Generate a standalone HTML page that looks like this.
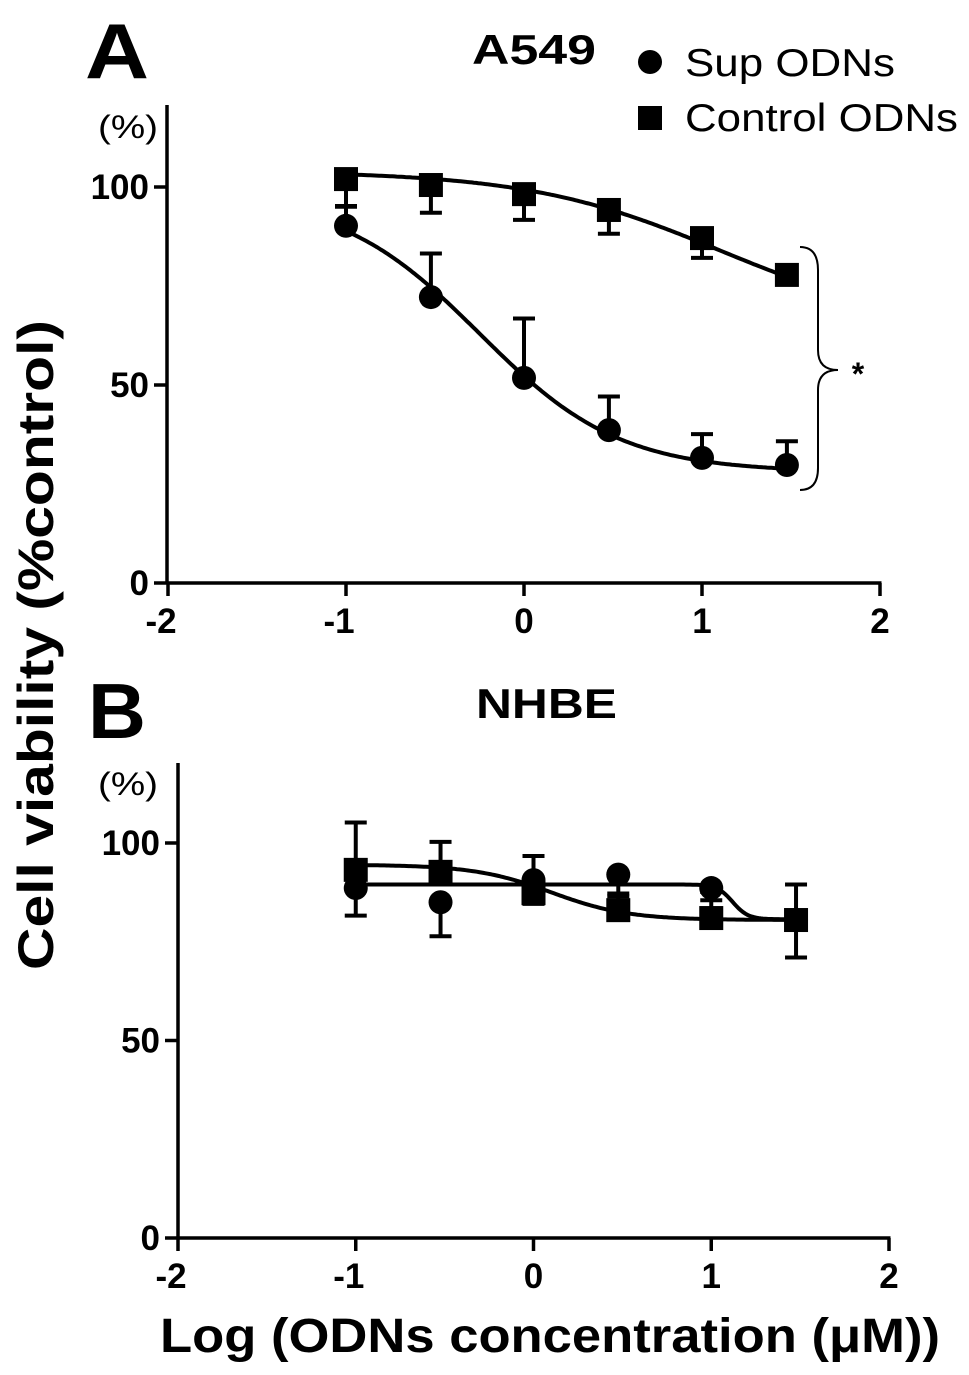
<!DOCTYPE html>
<html><head><meta charset="utf-8"><style>
body{margin:0;background:#fff}
svg{display:block;font-family:"Liberation Sans",Arial,sans-serif}
</style></head><body>
<svg id="c" width="969" height="1375" viewBox="0 0 969 1375">
<text x="85" y="78" font-size="78" font-weight="bold" textLength="64" lengthAdjust="spacingAndGlyphs">A</text>
<text x="88" y="738" font-size="78" font-weight="bold" textLength="58" lengthAdjust="spacingAndGlyphs">B</text>
<text x="472" y="64" font-size="42" font-weight="bold" textLength="124" lengthAdjust="spacingAndGlyphs">A549</text>
<text x="476" y="718" font-size="42" font-weight="bold" textLength="141" lengthAdjust="spacingAndGlyphs">NHBE</text>
<circle cx="650" cy="62" r="12"/>
<text x="685" y="76" font-size="39" textLength="210" lengthAdjust="spacingAndGlyphs">Sup ODNs</text>
<rect x="638" y="106" width="24" height="24"/>
<text x="685" y="131" font-size="39" textLength="273" lengthAdjust="spacingAndGlyphs">Control ODNs</text>
<text transform="translate(53,970) rotate(-90)" font-size="50" font-weight="bold" textLength="650" lengthAdjust="spacingAndGlyphs">Cell viability (%control)</text>
<text x="160" y="1352" font-size="48" font-weight="bold" textLength="780" lengthAdjust="spacingAndGlyphs">Log (ODNs concentration (μM))</text>
<text x="98" y="138" font-size="32" textLength="60" lengthAdjust="spacingAndGlyphs">(%)</text>
<text x="98" y="795" font-size="32" textLength="60" lengthAdjust="spacingAndGlyphs">(%)</text>
<path d="M800,247 Q818,247 818,270 L818,350 Q818,370 838,370 Q818,370 818,390 L818,468 Q818,490 800,490" fill="none" stroke="#000" stroke-width="2"/>
<text x="858" y="385" font-size="32" font-weight="bold" text-anchor="middle">*</text>
<g id="pa"></g>
<g id="pb"></g>
</svg>
<script>
const xTicks=[-2,-1,0,1,2];
const yTicks=[0,50,100];
const xVals=[-1,-0.523,0,0.477,1,1.477];
const aSup=[90.2,72.2,51.8,38.6,31.6,29.8];
const aSupErr=[5,11,15,8.5,6,6];
const aCtrl=[102,100.5,98.2,94.2,87.1,77.8];
const aCtrlErr=[7,7,6.5,6,5,0];
const bSup=[88.6,85,90.6,92,88.6,80.5];
const bSupErr=[7,8.6,6,4.8,1,9.5];
const bCtrl=[93.2,92.7,87.3,83,81,80.5];
const bCtrlErr=[12,7.6,9.4,3.5,4.5,9];
const fitASup=[98,28,-0.25,1.1];
const fitACtrl=[104,64,1.1,0.8];
const fitBSup=[89.5,80.7,1.12,10];
const fitBCtrl=[94.5,80.5,0.1,2];
const NS='http://www.w3.org/2000/svg';
function mk(p,t,a){const e=document.createElementNS(NS,t);for(const k in a)e.setAttribute(k,a[k]);p.appendChild(e);return e;}
function panel(g,ax,sup,supE,ctr,ctrE,fs,fc,errDown){
 const X=v=>ax.x0+(v+2)*ax.dx, Y=v=>ax.y0-v*ax.dy;
 let e=mk(g,'line',{x1:ax.ax,y1:ax.top,x2:ax.ax,y2:Y(0)+1.5,stroke:'#000','stroke-width':3.5});
 
 
 e=mk(g,'line',{x1:ax.ax,y1:Y(0),x2:X(2)+1.5,y2:Y(0),stroke:'#000','stroke-width':3.5});
 
 
 xTicks.forEach(t=>{mk(g,'line',{x1:X(t),y1:Y(0),x2:X(t),y2:Y(0)+13,stroke:'#000','stroke-width':3.5});
  e=mk(g,'text',{x:X(t)-(t<0?7:0),y:Y(0)+50,'font-size':35,'font-weight':'bold','text-anchor':'middle'});e.textContent=(t<0?'-'+(-t):t);
  
  });
 yTicks.forEach(t=>{mk(g,'line',{x1:ax.ax-13,y1:Y(t),x2:ax.ax,y2:Y(t),stroke:'#000','stroke-width':3.5});
  e=mk(g,'text',{x:ax.ax-18,y:Y(t)+12,'font-size':35,'font-weight':'bold','text-anchor':'end'});e.textContent=t;
  
  });
 function curve(f,name){let d='';for(let i=0;i<=200;i++){const x=-1+i*2.477/200;const y=f[1]+(f[0]-f[1])/(1+Math.pow(10,(x-f[2])*f[3]));d+=(i?'L':'M')+X(x).toFixed(1)+','+Y(y).toFixed(1);}
  const p=mk(g,'path',{d:d,fill:'none',stroke:'#000','stroke-width':4});
  
  }
 curve(fs,'sup-fit-curve');curve(fc,'control-fit-curve');
 function err(vals,errs,dir,name){vals.forEach((v,i)=>{if(!errs[i])return;const y2=Y(v+dir*errs[i]);
  const l=mk(g,'path',{d:`M${X(xVals[i])},${Y(v)}V${y2}M${X(xVals[i])-11},${y2}H${X(xVals[i])+11}`,stroke:'#000','stroke-width':4,fill:'none'});
  
  });}
 err(sup,supE,errDown[0],'sup-error-bar');err(ctr,ctrE,errDown[1],'control-error-bar');
 sup.forEach((v,i)=>{const c=mk(g,'circle',{cx:X(xVals[i]),cy:Y(v),r:12});
  
  });
 ctr.forEach((v,i)=>{const r=mk(g,'rect',{x:X(xVals[i])-12,y:Y(v)-12,width:24,height:24});
  
  });
}
panel(document.getElementById('pa'),{x0:168,dx:178,y0:583,dy:3.96,ax:167,top:105},aSup,aSupErr,aCtrl,aCtrlErr,fitASup,fitACtrl,[1,-1]);
panel(document.getElementById('pb'),{x0:178,dx:177.75,y0:1238,dy:3.95,ax:178,top:763},bSup,bSupErr,bCtrl,bCtrlErr,fitBSup,fitBCtrl,[-1,1]);
</script>
</body></html>
